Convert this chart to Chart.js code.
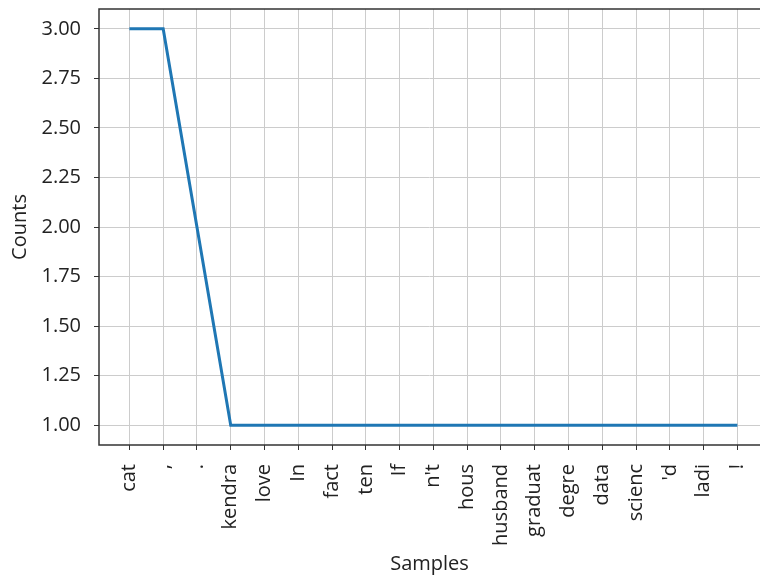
<!DOCTYPE html>
<html>
<head>
<meta charset="utf-8">
<script src="https://cdn.jsdelivr.net/npm/chart.js@4/dist/chart.umd.min.js"></script>
<style>
    html, body { margin: 0; padding: 0; background: #fff; overflow: hidden; }
    #wrap { width: 760px; height: 578px; }
</style>
</head>
<body>
<div id="wrap"><canvas id="freqChart" width="760" height="578"></canvas></div>
<script>
// Samples and their counts
const samples = ['cat', ',', '.', 'kendra', 'love', 'In', 'fact', 'ten', 'If', "n't",
    'hous', 'husband', 'graduat', 'degre', 'data', 'scienc', "'d", 'ladi', '!'];
const counts = [3, 3, 2, 1, 1, 1, 1, 1, 1, 1, 1, 1, 1, 1, 1, 1, 1, 1, 1];
const yTicks = [1.00, 1.25, 1.50, 1.75, 2.00, 2.25, 2.50, 2.75, 3.00];

Chart.defaults.font.family = 'Open Sans';
Chart.defaults.color = '#222';

// Spines on top, left and bottom (the right one is cut off in the original)
const frame = {
    id: 'frame',
    afterDraw(chart) {
        const a = chart.chartArea;
        const ctx = chart.ctx;
        ctx.save();
        ctx.strokeStyle = '#333';
        ctx.lineWidth = 1.5;
        ctx.beginPath();
        ctx.moveTo(a.right + 2, a.top);
        ctx.lineTo(a.left, a.top);
        ctx.lineTo(a.left, a.bottom);
        ctx.lineTo(a.right + 2, a.bottom);
        ctx.stroke();
        ctx.restore();
    }
};

const points = counts.map((c, i) => ({ x: i, y: c }));

new Chart(document.getElementById('freqChart'), {
    type: 'line',
    data: {
        datasets: [{
            data: points,
            borderColor: '#1f77b4',
            borderWidth: 3,
            pointRadius: 0,
            tension: 0
        }]
    },
    options: {
        responsive: false,
        animation: false,
        layout: { padding: { top: 9, right: 0, left: 0, bottom: 0 } },
        plugins: { legend: { display: false }, tooltip: { enabled: false } },
        scales: {
            x: {
                type: 'linear',
                min: -0.9,
                max: 18.67,
                afterBuildTicks: axis => {
                    axis.ticks = samples.map((s, i) => ({ value: i }));
                },
                afterFit: axis => {
                    axis.height = 133;
                    axis.paddingLeft = 0;
                    axis.paddingRight = 0;
                },
                ticks: {
                    callback: v => samples[v],
                    autoSkip: false,
                    maxRotation: 90,
                    minRotation: 90,
                    font: { size: 20 },
                    color: '#222',
                    padding: 14
                },
                grid: { color: '#cccccc', tickColor: '#333', tickLength: 5, lineWidth: 1 },
                border: { display: false },
                title: { display: true, text: 'Samples', font: { size: 20 }, color: '#222', padding: { top: 0, bottom: 2 } }
            },
            y: {
                min: 0.9,
                max: 3.1,
                afterBuildTicks: axis => {
                    axis.ticks = yTicks.map(v => ({ value: v }));
                },
                afterFit: axis => {
                    axis.width = 99;
                    axis.paddingTop = 0;
                    axis.paddingBottom = 0;
                },
                ticks: {
                    callback: v => v.toFixed(2),
                    font: { size: 20 },
                    color: '#222',
                    padding: 13
                },
                grid: { color: '#cccccc', tickColor: '#333', tickLength: 5, lineWidth: 1 },
                border: { display: false },
                title: { display: true, text: 'Counts', font: { size: 20 }, color: '#222', padding: { top: 8, bottom: 0 } }
            }
        }
    },
    plugins: [frame]
});
</script>
</body>
</html>
